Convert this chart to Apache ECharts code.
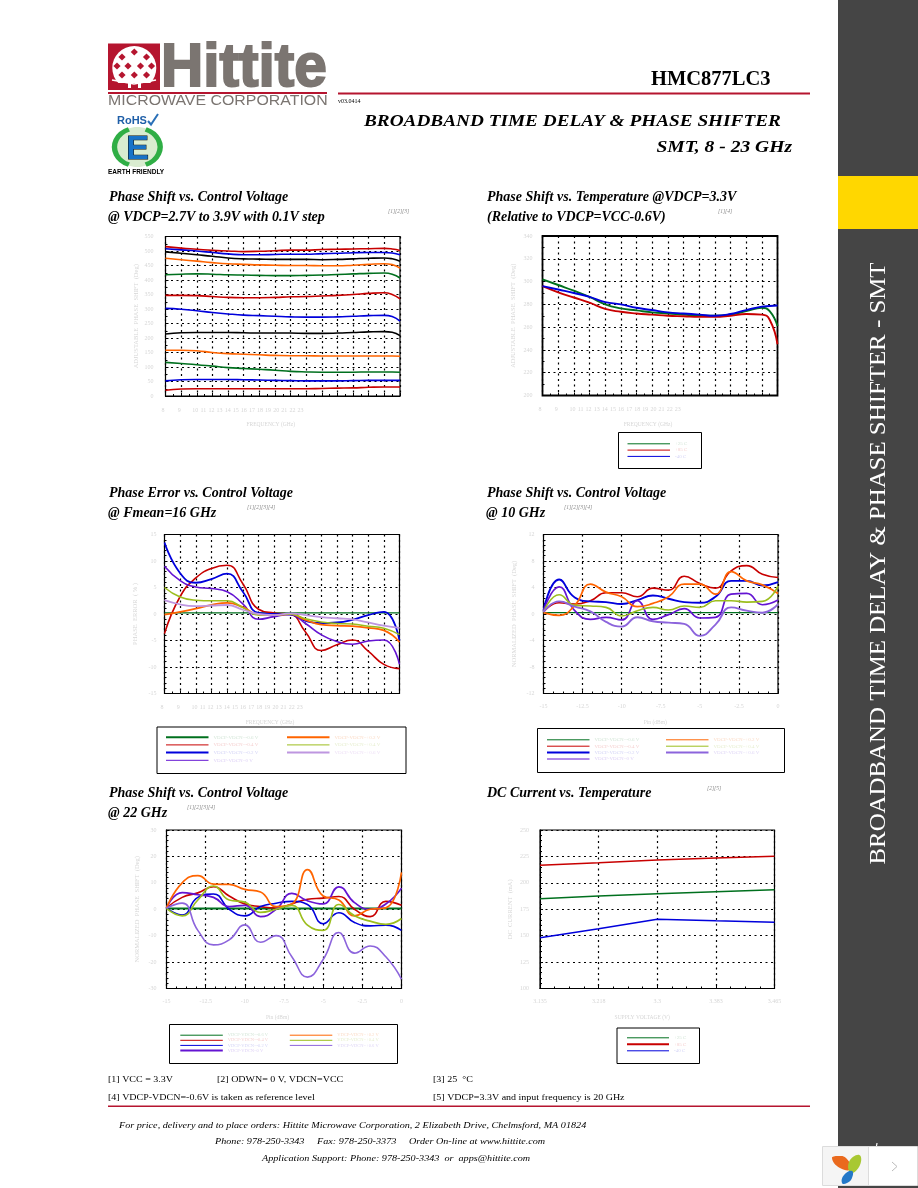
<!DOCTYPE html>
<html><head><meta charset="utf-8">
<style>html,body{margin:0;padding:0;background:#fff}#c{width:918px;height:1188px}</style>
<script src="https://cdn.jsdelivr.net/npm/echarts@6/dist/echarts.min.js"></script>
</head><body><div id="c"></div>
<script>
// ---------- x values and tick labels ----------
const freqA=[8,9,10,11,12,13,14,15,16,17,18,19,20,21,22,22.5,23];
const freqB=[8,9,10,11,12,13,14,15,16,17,18,19,20,21,22,23];
const pinDbm=[-15,-14,-13,-12,-11,-10,-9,-8,-7,-6,-5,-4,-3,-2,-1,0];
const volts=[3.135,3.2175,3.3,3.3825,3.465];
const voltTicks=['3.135','3.218','3.3','3.383','3.465'];
const freqTicks=['8','','9','','10','11','12','13','14','15','16','17','18','19','20','21','22','23','','','','','','','','','','','',''];
// ---------- chart 1: phase shift vs control voltage ----------
const a1=[515,510,506,502,500,498,499,501,503,503,505,506,507,508,509,507,502];
const a2=[508,504,500,495,490,487,487,488,489,489,491,492,494,495,495,493,487];
const a3=[497,492,487,482,476,473,472,471,471,471,470,471,473,475,476,473,465];
const a4=[475,470,465,460,456,454,452,451,450,450,449,449,451,454,456,453,441];
const a5=[418,420,421,420,418,417,416,415,415,416,417,419,421,423,424,420,407];
const a6=[347,347,346,343,340,339,339,340,342,343,345,347,350,354,356,350,335];
const a7=[302,299,294,288,283,279,277,275,273,272,272,273,275,277,278,274,258];
const a8=[214,218,219,219,219,218,217,217,217,216,216,217,219,221,222,220,208];
const a9=[158,158,156,150,146,144,142,140,139,139,138,138,138,138,138,138,137];
const a10=[116,112,108,103,98,95,92,89,85,83,82,82,82,83,83,83,82];
const a11=[52,56,57,57,57,56,55,54,53,52,52,52,53,54,54,54,54];
const a12=[20,24,25,25,25,25,25,25,25,25,26,27,28,30,31,31,31];
// ---------- chart 2: phase shift vs temperature ----------
const b25=[302,297,292,286.5,280,276.5,274.7,273,272,271,270,270,271,274,277,274,261];
const b85=[296,290.6,286,281.5,276,273.5,272,271,270,269.5,269,269,270,271.5,271,266.5,245];
const bM40=[296,293,290,286.5,282,280,277,275,273,272,271,270,271.5,275,278,278.5,279];
// ---------- chart 3: phase error at Fmean=16 GHz ----------
const e06n=[0.2,0.2,0.2,0.2,0.2,0.2,0.2,0.2,0.2,0.2,0.2,0.2,0.2,0.2,0.2,0.2];
const e04n=[-3.7,3.3,6.8,8.6,9.2,5.7,0.9,0.2,0,-3.4,-6.9,-5.8,-4.9,-7,-9.5,-10.3];
const e02n=[13.5,7.7,5.9,6.6,7.6,4.2,0.2,0,-0.1,-1.3,-1.7,-1.6,-1.1,-0.2,0.4,-5];
const e00=[9,6.3,5.1,4.8,4.2,1.9,-1,-0.5,-0.1,-1.8,-3.9,-5.2,-5.7,-5.1,-4.9,-9.5];
const e02p=[-0.1,0.4,1,1.7,2.1,1.3,-0.1,-0.2,0,-1.1,-2,-2.2,-2.3,-2.6,-3.1,-5.3];
const e04p=[5,3.2,2.6,2.5,2.5,1.2,-0.2,-0.2,0,-0.9,-1.5,-1.8,-1.9,-2.3,-2.7,-3.9];
const e06p=[2.6,1.8,1.5,1.6,1.7,0.8,0,-0.2,0.1,-0.2,-0.6,-0.8,-1,-1.6,-2.2,-2.6];
// ---------- chart 4: phase shift at 10 GHz ----------
const t06n=[0.2,0.2,0.2,0.2,0.2,0.2,0.2,0.2,0.2,0.2,0.2,0.2,0.2,0.2,0.2,0.2];
const t04n=[0.3,1.7,1.5,2,3.2,3.2,2.6,3.9,3.6,5.7,4.6,3.9,6.5,7.3,6,5.5];
const t02n=[0.5,5.2,2.5,1.9,1.8,1.5,2.1,2.8,2.3,1.8,1.7,2.6,5,5,4.3,4.8];
const t00=[0.5,4.1,0.5,-0.8,-0.5,-0.9,2,-0.8,-0.1,0.8,-0.6,-0.5,3,3.1,1.4,2.1];
const t02p=[0.2,-0.2,1.3,4.5,3.3,2.6,1.1,1.6,2.6,4.5,4.5,3,6.4,5,4.4,3.1];
const t04p=[0.3,2.9,1.3,1.2,1,-0.3,0.5,1,0.6,1.2,1,2,2,1.8,1.9,4.2];
const t06p=[0.3,1.9,1.1,0.4,-1.2,-1.9,-0.5,-1.1,-1.3,-1.5,-3.3,-1.6,1,0.5,0.2,1.5];
// ---------- chart 5: phase shift at 22 GHz ----------
const u06n=[0.3,0.3,0.3,0.3,0.3,0.3,0.3,0.3,0.3,0.3,0.3,0.3,0.3,0.3,0.3,0.3];
const u04n=[0.5,4.5,6.2,8.5,5,2,1,0.5,2,3.8,4.2,4.8,0,-2.8,3,1.5];
const u02n=[0.5,-2.2,4.5,5.8,0,-2.5,1,2.3,3,1.8,-5.5,-1.3,-5,-6.3,-6,-8];
const u00=[0.5,6.3,5.5,4.5,1,1.5,-2.8,0,6,3.2,2,8.5,2.5,0,2,8];
const u02p=[0.5,10,12.7,9.5,9.4,7.5,6.5,1,2,15,5,3.5,-2.5,0,0.5,14];
const u04p=[0.3,-2.5,3.5,8.8,3.5,2.7,-1.2,0,1.5,-6,-8,1.8,-2.5,-4.5,-5.7,-3.5];
const u06p=[0.5,2.3,-8,-13.5,-11.6,-5.9,-12.5,-10,-18,-25.7,-19,-8.8,-16.6,-13.9,-18,-26.5];
// ---------- chart 6: DC current ----------
const d25=[185,187.5,189.6,191.5,193.4];
const d85=[216.7,219,221.5,223.5,225.2];
const dM40=[148,156.5,165.6,164,162.8];
// ---------- labels ----------
const vdcLabels=['VDCP-VDCN=-0.6 V','VDCP-VDCN=-0.4 V','VDCP-VDCN=-0.2 V','VDCP-VDCN=0 V','VDCP-VDCN=+0.2 V','VDCP-VDCN=+0.4 V','VDCP-VDCN=+0.6 V'];
const tempLabels=['+25 C','+85 C','-40 C'];
const FONT="'Liberation Serif'";
const GREEN='#00701e',RED='#c80000',BLUE='#0000dc',BLACK='#000',ORANGE='#ff6400',YG='#9cbe1e',PURPLE='#6414d2',LILAC='#be96e0',LILAC2='#8c64dc';
const TINT={[GREEN]:'#d4e6d8',[RED]:'#f5d0d0',[BLUE]:'#d4d4f6',[PURPLE]:'#ddd0f5',[ORANGE]:'#fbdcc8',[YG]:'#e6eecf',[LILAC]:'#eee0f6',[LILAC2]:'#e0d8f6'};

const grids=[
 {left:165.5,top:236.5,width:234.5,height:159.5},
 {left:542.5,top:236,width:235,height:159.5},
 {left:164.5,top:534.5,width:235,height:159},
 {left:543.5,top:534.5,width:234.5,height:159},
 {left:166.5,top:830,width:235,height:158.5},
 {left:540,top:830,width:234.5,height:158.5}
];
const yAxesCfg=[
 {min:0,max:550,interval:50,name:'ADJUSTABLE  PHASE  SHIFT  (Deg)',margin:12},
 {min:200,max:340,interval:20,name:'ADJUSTABLE  PHASE  SHIFT  (Deg)',margin:10},
 {min:-15,max:15,interval:5,name:'PHASE  ERROR  ( % )',margin:8},
 {min:-12,max:12,interval:4,name:'NORMALIZED  PHASE  SHIFT  (Deg)',margin:9},
 {min:-30,max:30,interval:10,name:'NORMALIZED  PHASE  SHIFT  (Deg)',margin:10},
 {min:100,max:250,interval:25,name:'DC  CURRENT  (mA)',margin:11}
];
const xAxesCfg=[
 {kind:'freq',name:'FREQUENCY (GHz)',pad:24},
 {kind:'freq',name:'FREQUENCY (GHz)',pad:24},
 {kind:'freq',name:'FREQUENCY (GHz)',pad:24},
 {kind:'pin',name:'Pin (dBm)',pad:11},
 {kind:'pin',name:'Pin (dBm)',pad:13},
 {kind:'volt',name:'SUPPLY VOLTAGE (V)',pad:30}
];
const AXC='#000',LABC='#d6d6d6';
const xAxis=[],yAxis=[],gridOpt=[];
grids.forEach((g,i)=>{
 gridOpt.push({...g,show:true,borderColor:'#000',borderWidth:i===1?1.8:1.2,containLabel:false,backgroundColor:'transparent'});
 const xc=xAxesCfg[i],yc=yAxesCfg[i];
 const split={show:true,lineStyle:{color:'#000',width:1.2,type:[2,3.5]}};
 const common={gridIndex:i,position:'bottom',nameLocation:'middle',name:xc.name,nameGap:26,
   nameTextStyle:{fontFamily:FONT,fontSize:5.5,color:LABC,padding:[0,xc.pad,0,0]},
   axisLine:{show:true,onZero:false,lineStyle:{color:AXC,width:1}},
   axisTick:{show:true,inside:true,length:3,lineStyle:{color:AXC,width:1}},
   minorTick:{show:true,splitNumber:xc.kind==='freq'?2:4,length:2,lineStyle:{color:AXC,width:1}},
   splitLine:split};
 if(xc.kind==='freq'){
  xAxis.push({...common,type:'value',min:8,max:23,interval:1,axisLabel:{show:false}});
 }else if(xc.kind==='pin'){
  xAxis.push({...common,type:'value',min:-15,max:0,interval:2.5,axisLabel:{show:true,margin:10,fontFamily:FONT,fontSize:6,color:LABC,formatter:v=>String(v)}});
 }else{
  xAxis.push({...common,type:'value',min:3.135,max:3.465,interval:0.0825,axisLabel:{show:true,margin:10,fontFamily:FONT,fontSize:6,color:LABC,formatter:(v,idx)=>voltTicks[idx]}});
 }
 yAxis.push({gridIndex:i,type:'value',min:yc.min,max:yc.max,interval:yc.interval,position:'left',
   name:yc.name,nameLocation:'middle',nameGap:26,nameRotate:90,
   nameTextStyle:{fontFamily:FONT,fontSize:6.5,color:LABC},
   axisLine:{show:true,onZero:false,lineStyle:{color:AXC,width:1}},
   axisTick:{show:true,inside:true,length:3,lineStyle:{color:AXC,width:1}},
   minorTick:{show:true,splitNumber:i===0||i===1?2:5,length:2,lineStyle:{color:AXC,width:1}},
   splitLine:split,
   axisLabel:{show:true,margin:yc.margin,fontFamily:FONT,fontSize:6,color:LABC,hideOverlap:false}});
});
// secondary, label-only frequency axes (the printed labels crowd toward the left)
[0,1,2].forEach(i=>{
 xAxis.push({gridIndex:i,type:'category',position:'bottom',boundaryGap:false,data:freqTicks,
   axisLine:{show:false},axisTick:{show:false},splitLine:{show:false},
   axisLabel:{show:true,interval:0,margin:11,fontFamily:FONT,fontSize:6,color:LABC,padding:[0,5,0,0],hideOverlap:false}});
});

const series=[];
function line(chart,label,xs,ys,color,width,straight){
 series.push({type:'line',name:'c'+chart+'|'+label,xAxisIndex:chart,yAxisIndex:chart,
  data:xs.map((x,k)=>[x,ys[k]]),smooth:straight?false:0.5,symbol:'none',showSymbol:false,
  lineStyle:{color,width},itemStyle:{color},clip:true,animation:false,silent:true});
}
[[a1,RED],[a2,BLUE],[a3,BLACK],[a4,ORANGE],[a5,GREEN],[a6,RED],[a7,BLUE],[a8,BLACK],[a9,ORANGE],[a10,GREEN],[a11,BLUE],[a12,RED]]
 .forEach((s,k)=>line(0,'s'+k,freqA,s[0],s[1],1.6));
line(1,tempLabels[0],freqA,b25,GREEN,1.9);
line(1,tempLabels[1],freqA,b85,RED,1.9);
line(1,tempLabels[2],freqA,bM40,BLUE,1.9);
const c3=[[e06n,GREEN,1.2],[e04n,RED,1.6],[e02n,BLUE,1.8],[e00,PURPLE,1.6],[e02p,ORANGE,1.8],[e04p,YG,1.6],[e06p,LILAC,1.8]];
c3.forEach((s,k)=>line(2,vdcLabels[k],freqB,s[0],s[1],s[2]));
const c4=[[t06n,GREEN,1.2],[t04n,RED,1.6],[t02n,BLUE,1.9],[t00,PURPLE,1.7],[t02p,ORANGE,1.7],[t04p,YG,1.6],[t06p,LILAC2,1.9]];
c4.forEach((s,k)=>line(3,vdcLabels[k],pinDbm,s[0],s[1],s[2]));
const c5=[[u06n,GREEN,2],[u04n,RED,1.6],[u02n,BLUE,1.6],[u00,PURPLE,1.7],[u02p,ORANGE,1.7],[u04p,YG,1.7],[u06p,LILAC2,1.6]];
c5.forEach((s,k)=>line(4,vdcLabels[k],pinDbm,s[0],s[1],s[2]));
line(5,tempLabels[0],volts,d25,GREEN,1.4,true);
line(5,tempLabels[1],volts,d85,RED,1.5,true);
line(5,tempLabels[2],volts,dM40,BLUE,1.5,true);

// legends
const legend=[];
function leg(chart,names,colors,widths,left,top,gap,itemW,fs){
 legend.push({orient:'vertical',left,top,padding:0,itemGap:gap,itemWidth:itemW,itemHeight:6,selectedMode:false,
  itemStyle:{opacity:0},
  formatter:n=>n.split('|')[1],
  data:names.map((n,k)=>({name:'c'+chart+'|'+n,itemStyle:{opacity:0},textStyle:{color:TINT[colors[k]],fontFamily:FONT,fontSize:fs},lineStyle:{width:widths[k]}})),
  textStyle:{fontFamily:FONT,fontSize:fs}});
}
leg(1,tempLabels,[GREEN,RED,BLUE],[1,1,1],627,441.3,1.3,42.5,5);
leg(2,vdcLabels.slice(0,4),[GREEN,RED,BLUE,PURPLE],[2,1,2,1],165,734.7,2.7,42.5,5);
leg(2,vdcLabels.slice(4),[ORANGE,YG,LILAC],[2,1,2],286,734.7,2.7,42.5,5);
leg(3,vdcLabels.slice(0,4),[GREEN,RED,BLUE,PURPLE],[1,1,2,1],546,737.3,1.4,42.5,5);
leg(3,vdcLabels.slice(4),[ORANGE,YG,LILAC2],[1,1,2],665,737.3,1.4,42.5,5);
leg(4,vdcLabels.slice(0,4),[GREEN,RED,BLUE,PURPLE],[1,1,1,2],179.3,1032.7,0.1,42.5,4.5);
leg(4,vdcLabels.slice(4),[ORANGE,YG,LILAC2],[1,1,1],289.3,1032.7,0.1,42.5,4.5);
leg(5,tempLabels,[GREEN,RED,BLUE],[1,2,1],626,1035.3,1.5,42,5);

// ---------- page furniture ----------
const G=[];
const BAND='#454545',MAROON='#b5152f',LOGOGREY='#7b7571',GREENARC='#2fae45';
function T(text,x,y,font,opts){opts=opts||{};
 G.push({type:'text',x,y,rotation:opts.rot||0,scaleX:opts.sx||1,z:opts.z||5,
  style:{text,x:0,y:0,font,fill:opts.fill||'#000',textAlign:opts.align||'left',textVerticalAlign:'middle',stroke:opts.stroke,lineWidth:opts.lw}});}
function R(x,y,w,h,fill,opts){opts=opts||{};G.push({type:'rect',z:opts.z||1,shape:{x,y,width:w,height:h},style:{fill,stroke:opts.stroke,lineWidth:opts.lw}});}
function P(points,fill,smooth){G.push({type:'polygon',z:3,shape:{points,smooth:smooth||0},style:{fill}});}
function L(points,stroke,lw){G.push({type:'polyline',z:3,shape:{points},style:{stroke,lineWidth:lw,fill:null}});}
// right band
R(838,0,80,1188,BAND);
R(838,176,80,53,'#ffd700');
T('BROADBAND TIME DELAY & PHASE SHIFTER - SMT',879,563.5,"22.5px "+FONT,{rot:Math.PI/2,align:'center',fill:'#fff',sx:1.105});
// thumbnail widget
R(822.5,1146.5,95,39,'#fff',{stroke:'#dcdcdc',lw:1,z:2});
R(823,1147,45,38,'#f5f5f5',{z:2});
R(868,1147,1,38,'#dcdcdc',{z:2});
P([[832,1158.3],[838,1156],[846,1158],[851,1169],[840,1168]],'#ea6a1e',0.5);
P([[859.3,1155],[860,1165],[851,1173],[849,1162]],'#a8c832',0.5);
P([[842,1183],[844,1175],[852,1171],[852,1178],[847,1183]],'#2478c8',0.5);
L([[892,1162],[897,1166.5],[892,1171]],'#bbb',1);
L([[876.5,1146],[877,1143]],'#fff',1.2);
// logo
R(108,43.5,52,46,MAROON);
G.push({type:'circle',z:2,shape:{cx:134.3,cy:68,r:22},style:{fill:'#fff'}});
R(108,83,52,7,MAROON,{z:2});
[[122,57],[134.3,52],[146.5,57],[117,66],[128,66],[140.5,66],[151.5,66],[122,75],[134.3,75],[146.5,75]].forEach(c=>{
 P([[c[0],c[1]-3.6],[c[0]+3.6,c[1]],[c[0],c[1]+3.6],[c[0]-3.6,c[1]]],MAROON);});
L([[112,80],[134,84],[156,80]],'#fff',1.5);
R(128,83,3,5,'#fff',{z:3});R(138,83,3,5,'#fff',{z:3});
T('Hittite',161,69,"bold 61px 'Liberation Sans'",{fill:LOGOGREY,stroke:LOGOGREY,lw:2,sx:0.96});
R(108,92,219,2,MAROON);
T('MICROWAVE CORPORATION',108,101,"15px 'Liberation Sans'",{fill:LOGOGREY,sx:1.06});
R(338,92.5,472,2,MAROON);
T('v03.0414',338,101,"6px "+FONT);
T('HMC877LC3',651,80,"bold 20.5px "+FONT);
T('BROADBAND TIME DELAY & PHASE SHIFTER',364,122,"italic bold 17px "+FONT,{sx:1.133});
T('SMT, 8 - 23 GHz',792,148,"italic bold 17px "+FONT,{align:'right',sx:1.15});
// RoHS badge
T('RoHS',117,120.5,"bold 11px 'Liberation Sans'",{fill:'#1f5fa8'});
L([[148,121],[151,124.5],[158,114]],'#2a70b8',2);
G.push({type:'ellipse',z:2,shape:{cx:137.3,cy:147,rx:24,ry:20},style:{fill:'#d9ecd0'}});
G.push({type:'arc',z:3,originX:137.3,originY:147,scaleX:1.2,shape:{cx:137.3,cy:147,r:19,startAngle:Math.PI*0.62,endAngle:Math.PI*1.38,clockwise:true},style:{stroke:GREENARC,lineWidth:4.5,fill:null}});
G.push({type:'arc',z:3,originX:137.3,originY:147,scaleX:1.2,shape:{cx:137.3,cy:147,r:19,startAngle:-Math.PI*0.38,endAngle:Math.PI*0.38,clockwise:true},style:{stroke:GREENARC,lineWidth:4.5,fill:null}});
T('E',137.5,150,"bold 34px 'Liberation Sans'",{fill:'#1873c8',stroke:'#000',lw:1,align:'center',z:6});
T('EARTH FRIENDLY',108,172,"bold 6.5px 'Liberation Sans'");
// chart titles
const TITLE="italic bold 14px "+FONT, REF="italic 5.5px "+FONT;
[['Phase Shift vs. Control Voltage',109,197],['@ VDCP=2.7V to 3.9V with 0.1V step',108,217],
 ['Phase Shift vs. Temperature @VDCP=3.3V',487,197],['(Relative to VDCP=VCC-0.6V)',487,217],
 ['Phase Error vs. Control Voltage',109,493],['@ Fmean=16 GHz',108,513],
 ['Phase Shift vs. Control Voltage',487,493],['@ 10 GHz',486,513],
 ['Phase Shift vs. Control Voltage',109,793],['@ 22 GHz',108,813],
 ['DC Current vs. Temperature',487,793]].forEach(t=>T(t[0],t[1],t[2],TITLE));
[['[1][2][3]',388,212],['[1][4]',718,212],['[1][2][3][4]',247,508],['[1][2][3][4]',564,508],['[1][2][3][4]',187,808],['[2][5]',707,789]]
 .forEach(t=>T(t[0],t[1],t[2],REF,{fill:'#888'}));
// notes and footer
const NOTE="8.7px "+FONT, FOOT="italic 9.2px "+FONT;
[['[1] VCC = 3.3V',108,1079.5],['[2] ODWN= 0 V, VDCN=VCC',217,1079.5],['[3] 25  \u00B0C',433,1079.5],
 ['[4] VDCP-VDCN=-0.6V is taken as reference level',108,1097.5],['[5] VDCP=3.3V and input frequency is 20 GHz',433,1097.5]]
 .forEach(t=>T(t[0],t[1],t[2],NOTE,{sx:1.15}));
R(108,1105.5,702,1.5,MAROON);
[['For price, delivery and to place orders: Hittite Microwave Corporation, 2 Elizabeth Drive, Chelmsford, MA 01824',119,1125.7],
 ['Phone: 978-250-3343     Fax: 978-250-3373     Order On-line at www.hittite.com',215,1142],
 ['Application Support: Phone: 978-250-3343  or  apps@hittite.com',262,1158.7]].forEach(t=>T(t[0],t[1],t[2],FOOT,{sx:1.105}));
// legend frames
[[618.5,432.5,83,36],[157,727,249,46.5],[537.5,728.5,247,44],[169.5,1024.5,228,39],[617,1028,82.5,35.5]]
 .forEach(f=>R(f[0],f[1],f[2],f[3],'none',{stroke:'#000',lw:1,z:2}));

const chart=echarts.init(document.getElementById('c'),null,{renderer:'canvas',width:918,height:1188});
chart.setOption({animation:false,backgroundColor:'#fff',grid:gridOpt,xAxis,yAxis,series,legend,graphic:{elements:G},tooltip:{show:false}});
</script></body></html>
